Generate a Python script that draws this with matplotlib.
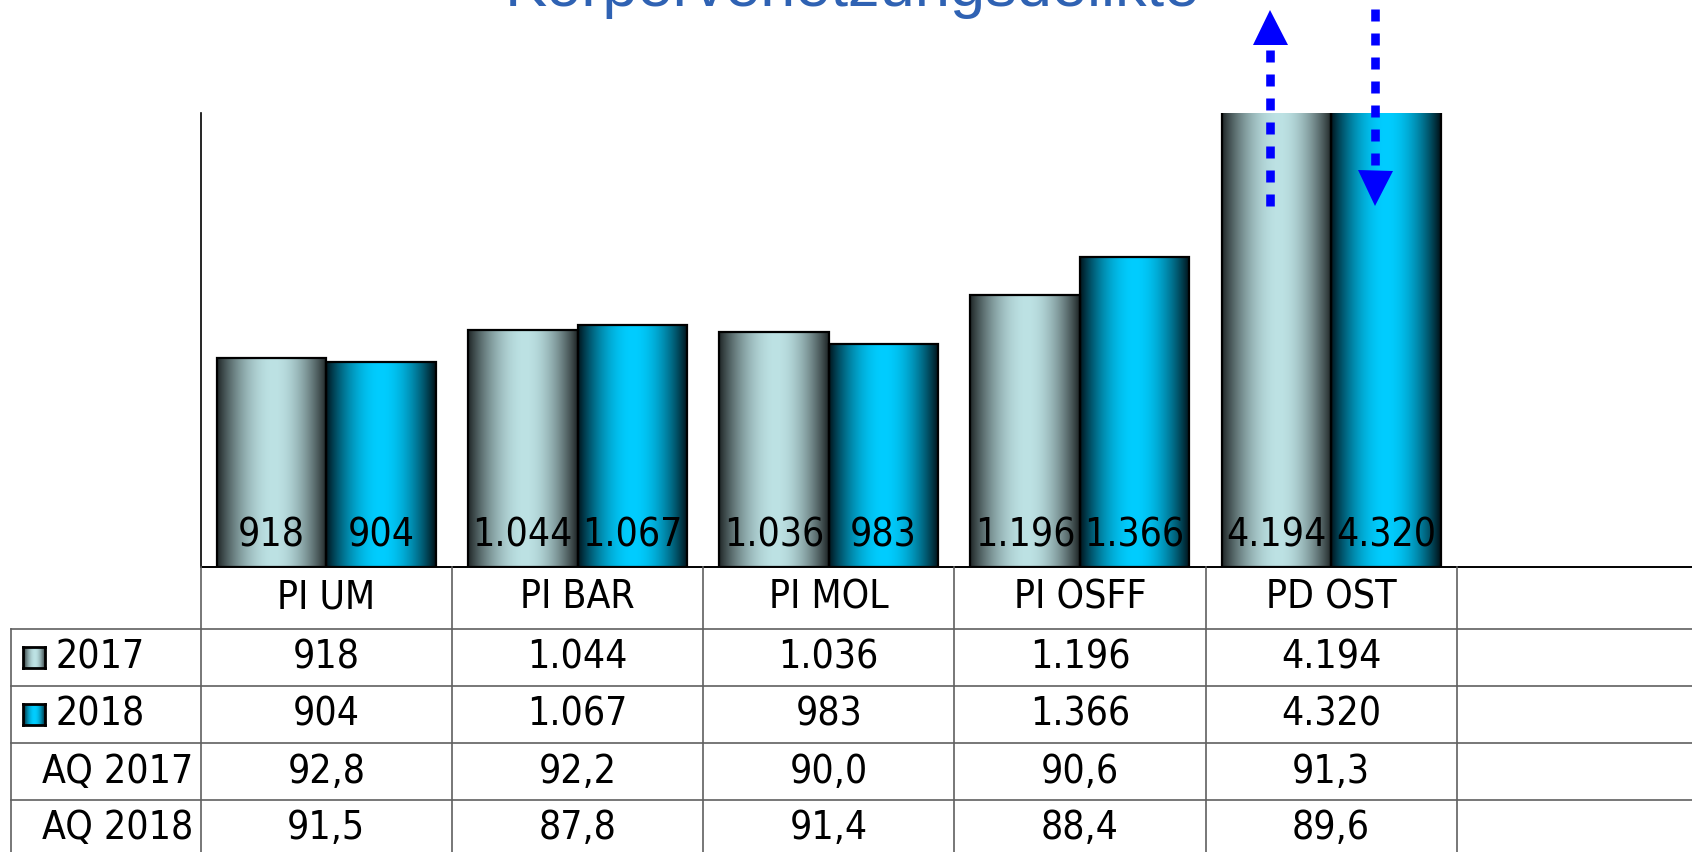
import numpy as np
import matplotlib
matplotlib.use("Agg")
import matplotlib.pyplot as plt
from matplotlib import transforms, font_manager
from matplotlib.font_manager import FontProperties
from matplotlib.lines import Line2D

# ---------------- data ----------------
categories = ["PI UM", "PI BAR", "PI MOL", "PI OSFF", "PD OST"]
values_2017 = [918, 1044, 1036, 1196, 4194]
values_2018 = [904, 1067, 983, 1366, 4320]
aq_2017 = ["92,8", "92,2", "90,0", "90,6", "91,3"]
aq_2018 = ["91,5", "87,8", "91,4", "88,4", "89,6"]
series_labels = ["2017", "2018"]
aq_labels = ["AQ 2017", "AQ 2018"]
title = "Körperverletzungsdelikte"


def fmt_de(v):
    return f"{v:,}".replace(",", ".")


# ---------------- fonts ----------------
def pick_font():
    fl = font_manager.fontManager.ttflist
    for f in fl:
        if f.name in ("Liberation Sans Narrow", "Arial Narrow") and f.style == "normal" and f.weight in (400, "normal"):
            return f.fname, 29
    for f in fl:
        if "DejaVuSansCondensed.ttf" in f.fname:
            return f.fname, 28
    for f in fl:
        if f.name == "DejaVu Sans" and f.stretch == "condensed" and f.style == "normal" and f.weight in (400, "normal"):
            return f.fname, 28
    return None, 25


fname, FS = pick_font()
if fname:
    FP = FontProperties(fname=fname, size=FS)
else:
    FP = FontProperties(family="Liberation Sans", size=FS)

W, H = 1692, 852
DPI = 100
fig = plt.figure(figsize=(W / DPI, H / DPI), dpi=DPI)

# layout in pixels
ax_left = 200.7
ax_bottom = 566.5
ax_top = 113.3
col_w = 251.2
YMAX = 2000
ax = fig.add_axes([ax_left / W, 1 - ax_bottom / H, 1 - ax_left / W, (ax_bottom - ax_top) / H])
XLIM = (-0.5, -0.5 + (W - ax_left) / col_w)
ax.set_xlim(*XLIM)
ax.set_ylim(0, YMAX)
for s in ["top", "right"]:
    ax.spines[s].set_visible(False)
ax.spines["left"].set_linewidth(1.2)
ax.spines["bottom"].set_linewidth(1.4)
ax.set_xticks([])
ax.set_yticks([])

x = np.arange(len(categories))
bw = 0.436
b17 = ax.bar(x - bw / 2, values_2017, bw, facecolor="none", edgecolor="black", linewidth=1.6, zorder=3)
b18 = ax.bar(x + bw / 2, values_2018, bw, facecolor="none", edgecolor="black", linewidth=1.6, zorder=3)


def make_grad(dark_l, light, dark_r, n=256, power=0.9, peak=0.5):
    t = np.linspace(0, 1, n)
    f = np.where(t < peak, np.sin(np.pi / 2 * t / peak), np.sin(np.pi / 2 * (1 - t) / (1 - peak)))
    f = np.clip(f, 0, 1) ** power
    dl = np.array(matplotlib.colors.to_rgb(dark_l))
    dr = np.array(matplotlib.colors.to_rgb(dark_r))
    li = np.array(matplotlib.colors.to_rgb(light))
    dark = np.where(t[:, None] < peak, dl, dr)
    rgb = dark + (li - dark) * f[:, None]
    return rgb[None, :, :]


grad17 = make_grad("#1e2526", "#bde2e4", "#1c2223", peak=0.52)
grad18 = make_grad("#00141c", "#00cdff", "#000e14", peak=0.5)

for bars, grad in ((b17, grad17), (b18, grad18)):
    for p in bars:
        x0, y0 = p.get_x(), p.get_y()
        w, h = p.get_width(), p.get_height()
        top = min(y0 + h, YMAX)
        ax.imshow(grad, extent=[x0, x0 + w, y0, top], aspect="auto",
                  interpolation="bilinear", zorder=2)
ax.set_xlim(*XLIM)
ax.set_ylim(0, YMAX)

# value labels at the bottom of bars
for bars, vals in ((b17, values_2017), (b18, values_2018)):
    for p, v in zip(bars, vals):
        ax.annotate(fmt_de(v), xy=(p.get_x() + p.get_width() / 2, 0), xytext=(0, 14.4),
                    textcoords="offset points", ha="center", va="baseline",
                    fontproperties=FP, color="black", zorder=5)

# ---------------- arrows on PD OST ----------------
plt.rcParams["lines.scale_dashes"] = False


def py(ypx):
    """figure pixel row (from top) -> data y of the bar axes"""
    return (ax_bottom - ypx) / (ax_bottom - ax_top) * YMAX


i_ost = len(categories) - 1
ARROW_C = "#0000ff"
xa_up = i_ost - bw / 2 - 0.026
xa_dn = i_ost + bw / 2 - 0.043
dash = (0, (8.64, 8.64))
ax.add_line(Line2D([xa_up, xa_up], [py(50), py(206)], color=ARROW_C, lw=6.2,
                   linestyle=dash, dash_capstyle="butt", clip_on=False, zorder=6))
ax.plot([xa_up], [py(9.3 + 17.5)], marker="^", ms=25.2, color=ARROW_C, mew=0,
        clip_on=False, zorder=6)
ax.add_line(Line2D([xa_dn, xa_dn], [py(9), py(165)], color=ARROW_C, lw=6.2,
                   linestyle=dash, dash_capstyle="butt", clip_on=False, zorder=6))
ax.plot([xa_dn], [py(205 - 17.5)], marker="v", ms=25.2, color=ARROW_C, mew=0,
        clip_on=False, zorder=6)

# ---------------- title ----------------
fig.text(852.5 / W, 1 - 6 / H, title, ha="center", va="baseline", fontsize=45.5,
         family=["Liberation Sans", "DejaVu Sans"], color="#2f62b3")

# ---------------- data table ----------------
ypx = transforms.Affine2D().scale(1 / W, -1 / H).translate(0, 1) + fig.transFigure
bt = transforms.blended_transform_factory(ax.transData, ypx)
pxt = transforms.Affine2D().scale(1 / W, -1 / H).translate(0, 1) + fig.transFigure

row_lines = [628.5, 686.0, 743.0, 800.0]
row_centers = [597.5, 657.2, 714.5, 771.5, 828.5]
grid_c = "#606060"

for yl in row_lines:
    fig.add_artist(Line2D([11, W], [yl, yl], color=grid_c, lw=1.2, transform=pxt))
fig.add_artist(Line2D([11, 11], [628.5, H], color=grid_c, lw=1.2, transform=pxt))
fig.add_artist(Line2D([ax_left, ax_left], [ax_bottom, H], color=grid_c, lw=1.2, transform=pxt))
for k in range(len(categories)):
    fig.add_artist(Line2D([k + 0.5, k + 0.5], [ax_bottom, H], color=grid_c, lw=1.2,
                          transform=bt))

for k, c in enumerate(categories):
    fig.text(k, row_centers[0], c, transform=bt, ha="center", va="center",
             fontproperties=FP)
rows = [[fmt_de(v) for v in values_2017], [fmt_de(v) for v in values_2018], aq_2017, aq_2018]
for r, vals in enumerate(rows):
    for k, v in enumerate(vals):
        fig.text(k, row_centers[r + 1], v, transform=bt, ha="center", va="center",
                 fontproperties=FP)

for r, (lab, grad) in enumerate(zip(series_labels, (grad17, grad18))):
    yc = row_centers[r + 1]
    sq_ax = fig.add_axes([23 / W, 1 - (yc + 10.5) / H, 22 / W, 21 / H])
    sq_ax.imshow(grad, aspect="auto", extent=[0, 1, 0, 1], interpolation="bilinear")
    sq_ax.set_xticks([])
    sq_ax.set_yticks([])
    for s in sq_ax.spines.values():
        s.set_linewidth(2.0)
        s.set_color("black")
    fig.text(56, yc, lab, transform=pxt, ha="left", va="center", fontproperties=FP)
for r, lab in enumerate(aq_labels):
    fig.text(193, row_centers[r + 3], lab, transform=pxt, ha="right", va="center",
             fontproperties=FP)

fig.savefig("out.png", dpi=DPI)
